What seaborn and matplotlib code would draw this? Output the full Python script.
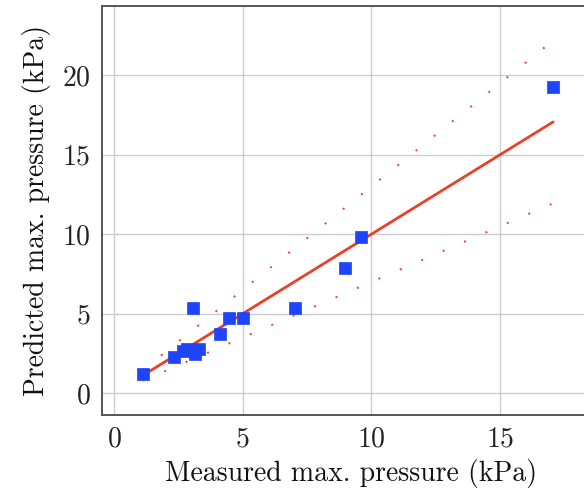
import numpy as np
import pandas as pd
import matplotlib
matplotlib.use('Agg')
import matplotlib.pyplot as plt
import seaborn as sns

# data
measured = [1.12, 2.33, 2.67, 2.85, 3.14, 3.32, 3.06, 4.12, 4.47, 5.00, 7.03, 8.99, 9.60, 17.07]
predicted = [1.24, 2.25, 2.67, 2.76, 2.46, 2.76, 5.34, 3.70, 4.71, 4.71, 5.34, 7.91, 9.86, 19.25]

# reference line y = x and +/-30 % band
band_factors = [1.0, 1.3, 0.7]
line_x = [min(measured), max(measured)]

df = pd.DataFrame({'measured': measured, 'predicted': predicted})

sns.set_style('whitegrid')
plt.rcParams['font.family'] = ['cmr10', 'DejaVu Serif']
plt.rcParams['axes.formatter.use_mathtext'] = True
plt.rcParams['mathtext.fontset'] = 'cm'

W, H = 584, 494
fig = plt.figure(figsize=(W / 100, H / 100), dpi=100)

# axes box in pixels (right edge runs past the picture, as in the reference)
left_px, right_px, top_px, bottom_px = 101.7, 600, 5.7, 414.7
ax = fig.add_axes([left_px / W, 1 - bottom_px / H,
                   (right_px - left_px) / W, (bottom_px - top_px) / H])

red = '#e8412a'
for f in band_factors:
    ys = [f * v for v in line_x]
    if f == 1.0:
        sns.lineplot(x=line_x, y=ys, ax=ax, color=red, linewidth=2.0, zorder=3)
    else:
        sns.lineplot(x=line_x, y=ys, ax=ax, color=red, linewidth=1.4,
                     linestyle=(0, (1, 11)), zorder=2)

sns.scatterplot(data=df, x='measured', y='predicted', ax=ax, marker='s', s=72,
                color='#1f45fc', edgecolor='#1f45fc', linewidth=0.5, zorder=4)

ax.set_xlim(-0.478, 18.89)
ax.set_ylim(-1.35, 24.38)
ax.set_xticks([0, 5, 10, 15])
ax.set_yticks([0, 5, 10, 15, 20])

ax.grid(True, color='#cccccc', linewidth=1.0)
for s in ax.spines.values():
    s.set_color('#555555')
    s.set_linewidth(1.4)
ax.tick_params(axis='both', labelsize=20, colors='#222222', length=0, pad=8)

ax.set_xlabel('Measured max. pressure (kPa)', fontsize=20, color='#111111', labelpad=5)
ax.set_ylabel('Predicted max. pressure (kPa)', fontsize=20, color='#111111', labelpad=8)

fig.savefig('out.png', dpi=100)
